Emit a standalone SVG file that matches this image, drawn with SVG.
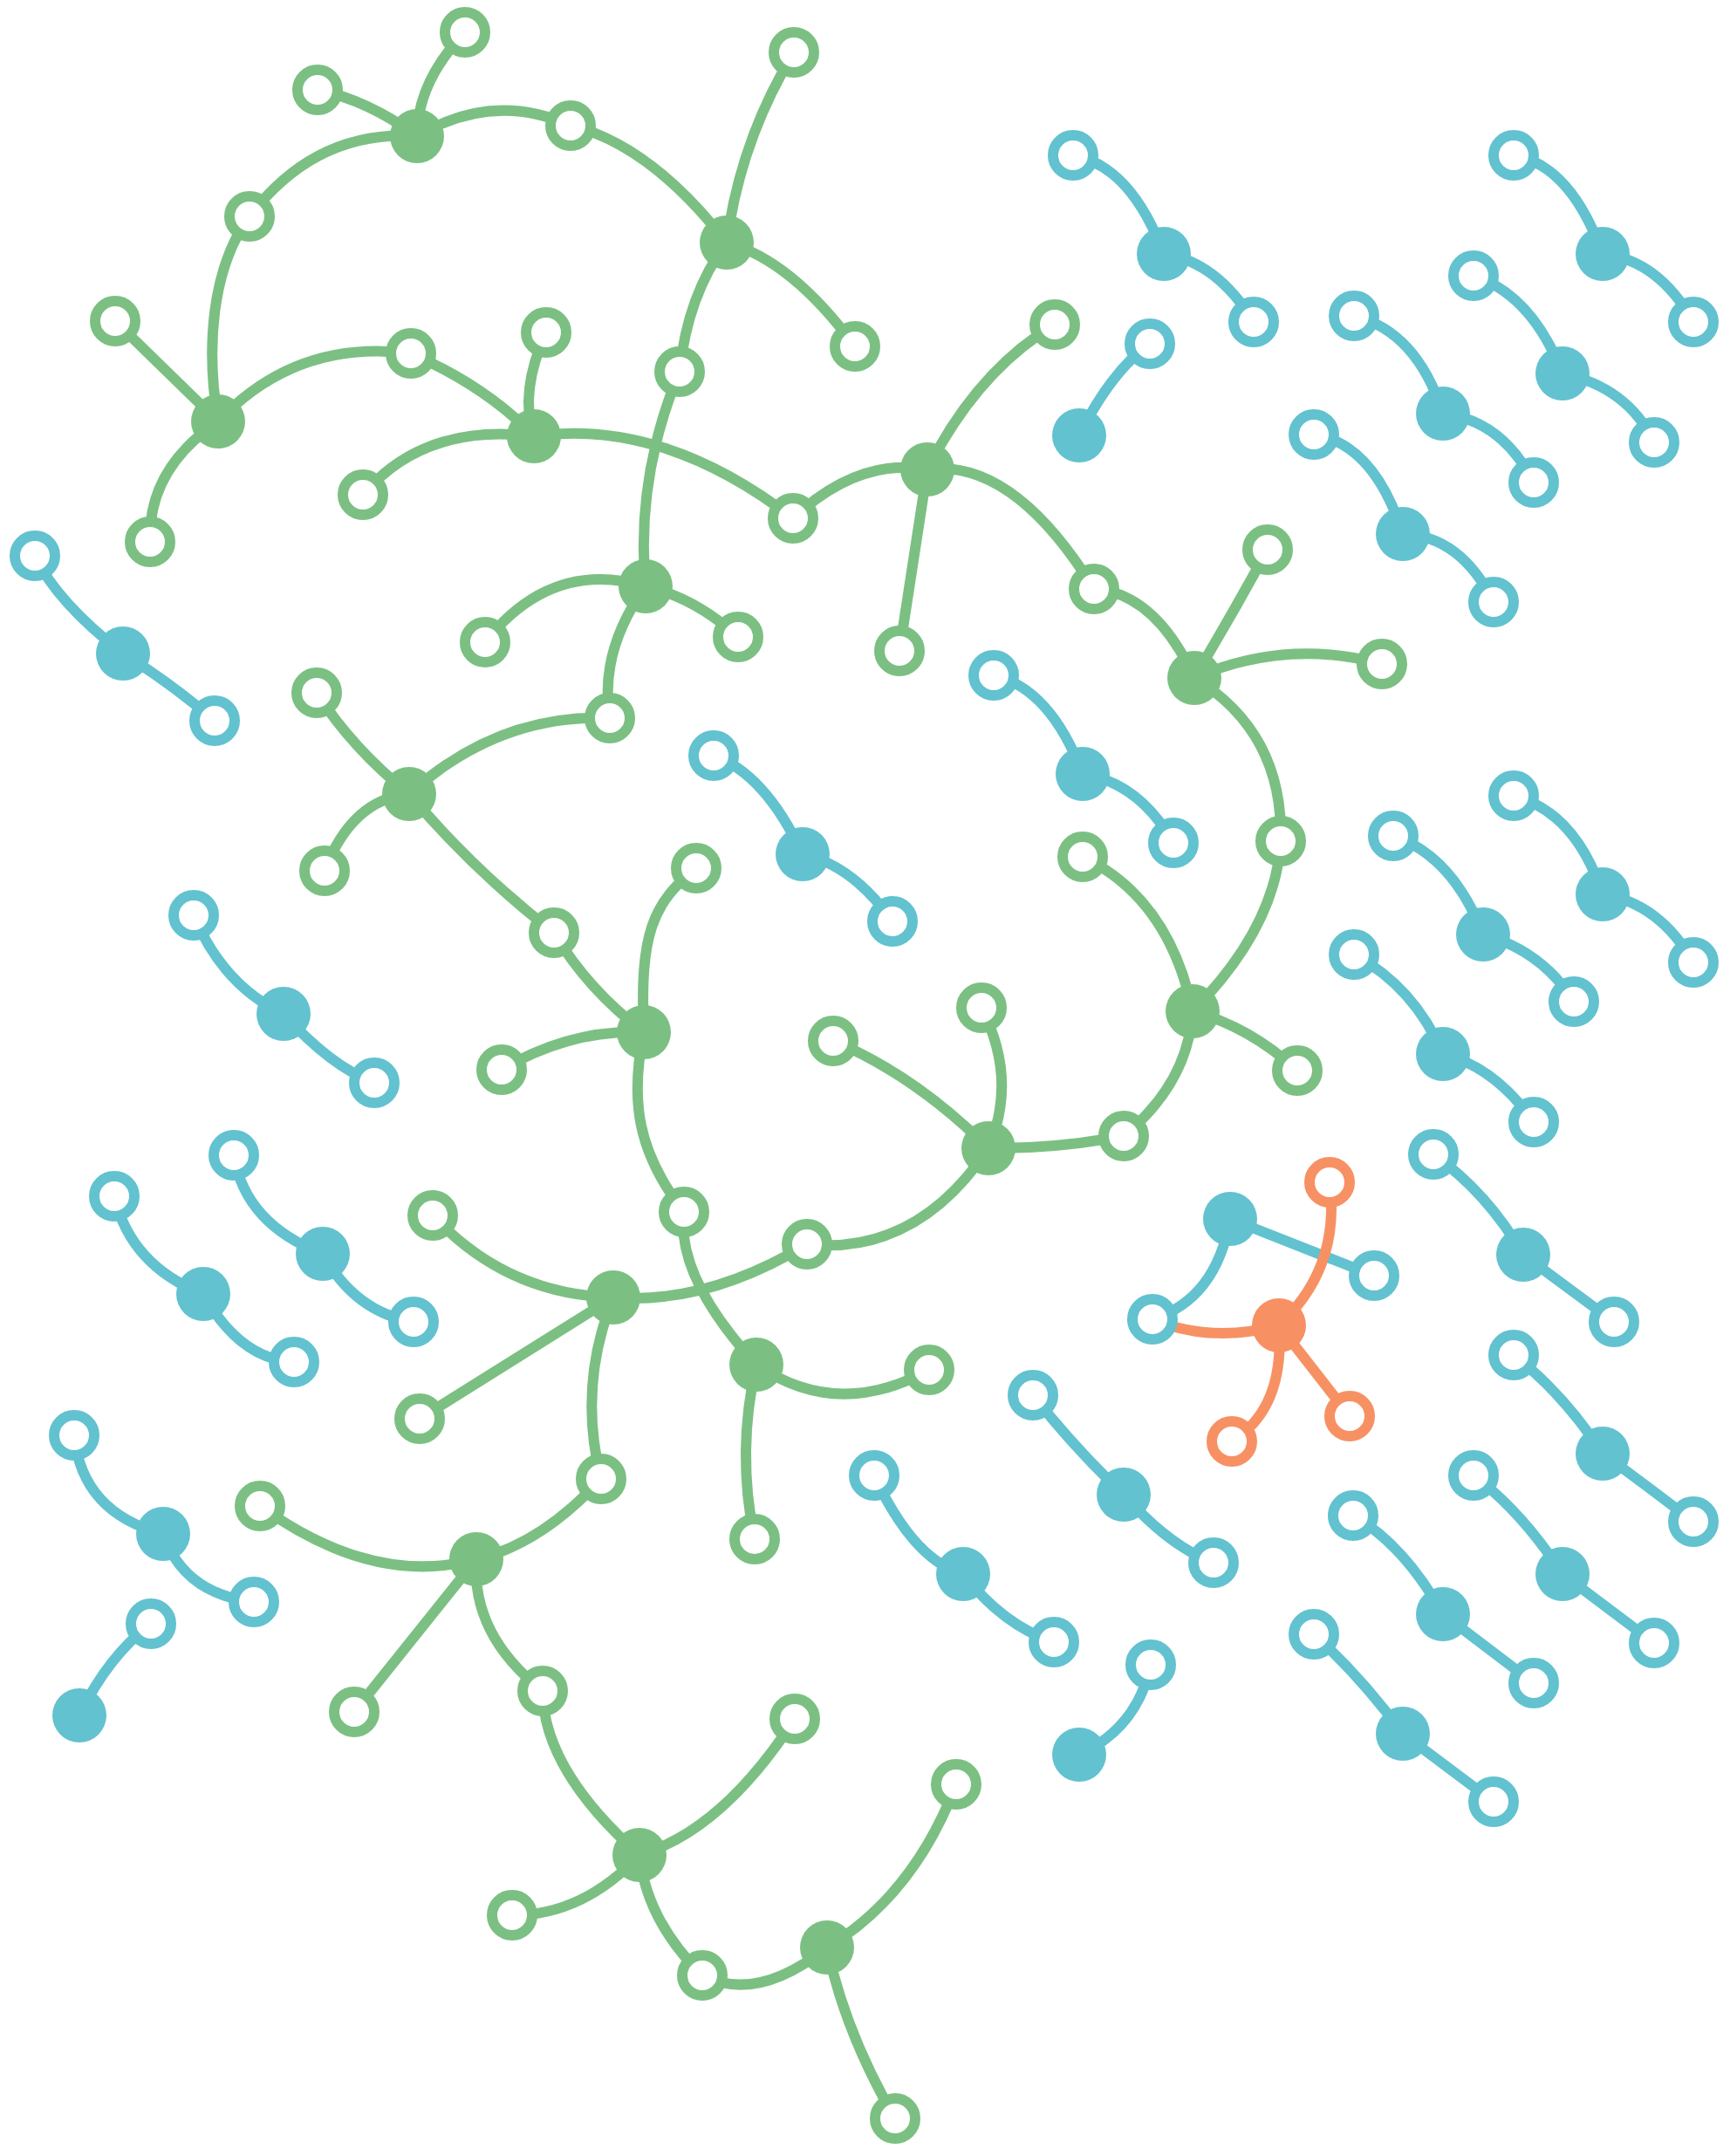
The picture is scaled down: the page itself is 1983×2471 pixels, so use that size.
<svg xmlns="http://www.w3.org/2000/svg" width="1983" height="2471" viewBox="0 0 1983 2471">
<style>
.e{fill:none;stroke-width:12;stroke-linecap:round}
.eg{stroke:#7bc082}.eb{stroke:#62c2cf}.eo{stroke:#f79163}
.fg{fill:#7bc082}.fb{fill:#62c2cf}.fo{fill:#f79163}
.h{fill:#fff;stroke-width:12}
.hg{stroke:#7bc082}.hb{stroke:#62c2cf}.ho{stroke:#f79163}
</style>
<rect width="1983" height="2471" fill="#fff"/>
<g id="connectors">
<g id="green-edges" class="e eg">
<path d="M478 156 Q478.5 93.5 533 37"/>
<path d="M478 156 Q421 114.5 364 103"/>
<path d="M478 156 Q566 104 654 144"/>
<path d="M654 144 Q744.5 165 833 278"/>
<path d="M478 156 Q362 148 286 248"/>
<path d="M286 248 C242 308 236 400 250 483"/>
<path d="M833 278 Q848.5 161 910 60"/>
<path d="M833 278 Q907.5 298.5 980 397"/>
<path d="M833 278 Q788 338 779 426"/>
<path d="M132 368 L250 483"/>
<path d="M250 483 Q339.5 388 471 405"/>
<path d="M471 405 Q558.5 443.5 612 500"/>
<path d="M626 381 Q595 449 612 500"/>
<path d="M416 567 Q486 484.5 612 500"/>
<path d="M250 483 Q169 538 172 621"/>
<path d="M612 500 Q759.5 479 909 594"/>
<path d="M779 426 Q728.5 547 740 672"/>
<path d="M740 672 Q632 640 556 736"/>
<path d="M740 672 Q797 685 846 730"/>
<path d="M740 672 Q686.5 746.5 699 823"/>
<path d="M909 594 Q984 524 1063 538"/>
<path d="M1063 538 Q1120 425 1209 372"/>
<path d="M1063 538 L1031 746"/>
<path d="M1063 538 Q1161.5 525.5 1254 675"/>
<path d="M1254 675 Q1324.5 680 1369 777"/>
<path d="M1369 777 Q1413 703 1453 630"/>
<path d="M1369 777 Q1473.5 731 1584 761"/>
<path d="M1369 777 Q1471.5 839.5 1468 964"/>
<path d="M1468 964 Q1462.5 1062.5 1367 1159"/>
<path d="M1367 1159 Q1340 1029.5 1241 982"/>
<path d="M1367 1159 Q1433 1177 1487 1227"/>
<path d="M1367 1159 Q1362 1241 1288 1302"/>
<path d="M1288 1302 Q1209.5 1317 1133 1316"/>
<path d="M1133 1316 Q1167 1236.5 1125 1155"/>
<path d="M1133 1316 Q1048 1231.5 955 1193"/>
<path d="M1133 1316 Q1051 1439 925 1426"/>
<path d="M363 794 Q404 858 469 910"/>
<path d="M699 823 Q571.5 817.5 469 910"/>
<path d="M469 910 Q403.5 916 372 998"/>
<path d="M469 910 Q544 998.5 635 1069"/>
<path d="M635 1069 Q673.5 1134 738 1183"/>
<path d="M738 1183 C733 1070 748 1035 798 995"/>
<path d="M738 1183 Q653.5 1179.5 575 1226"/>
<path d="M738 1183 C722 1260 730 1320 784 1389"/>
<path d="M784 1389 Q774.5 1463.5 867 1564"/>
<path d="M703 1487 Q580.5 1484 496 1393"/>
<path d="M703 1487 Q810 1495.5 925 1426"/>
<path d="M703 1487 L481 1626"/>
<path d="M703 1487 Q662 1589 689 1695"/>
<path d="M867 1564 Q960 1628 1065 1570"/>
<path d="M867 1564 Q844 1664 865 1764"/>
<path d="M689 1695 Q620 1770 546 1787"/>
<path d="M546 1787 Q428 1819.5 298 1726"/>
<path d="M546 1787 L406 1962"/>
<path d="M546 1787 Q540 1873.5 622 1938"/>
<path d="M622 1938 Q622.5 2028 733 2126"/>
<path d="M733 2126 Q828 2098 911 1970"/>
<path d="M733 2126 Q668 2195.5 587 2195"/>
<path d="M733 2126 Q741 2201 805 2264"/>
<path d="M805 2264 Q867.5 2296 948 2232"/>
<path d="M948 2232 Q1048 2171.5 1096 2045"/>
<path d="M948 2232 Q969 2330 1026 2428"/>
</g>
<g id="blue-edges" class="e eb">
<path d="M40 637 Q65 690 141 749"/><path d="M141 749 Q196 783 246 826"/>
<path d="M1230 178 Q1296 190 1334 291"/><path d="M1334 291 Q1395 300 1437 369"/>
<path d="M1735 178 Q1800 189 1837 291"/><path d="M1837 291 Q1901 298 1941 369"/>
<path d="M1689 316 Q1756 338 1791 428"/><path d="M1791 428 Q1866 444 1896 507"/>
<path d="M1552 362 Q1624 380 1654 474"/><path d="M1654 474 Q1722 482 1758 553"/>
<path d="M1506 498 Q1575 509 1608 612"/><path d="M1608 612 Q1674 614 1712 690"/>
<path d="M1318 394 Q1274 425 1237 499"/>
<path d="M818 866 Q877 887 920 979"/><path d="M920 979 Q978 992 1023 1056"/>
<path d="M222 1049 Q256 1130 325 1162"/><path d="M325 1162 Q379 1222 429 1241"/>
<path d="M1139 774 Q1204 789 1241 887"/><path d="M1241 887 Q1306 897 1345 966"/>
<path d="M1735 912 Q1806 931 1837 1025"/><path d="M1837 1025 Q1902 1035 1941 1103"/>
<path d="M1597 958 Q1665 981 1700 1071"/><path d="M1700 1071 Q1768 1090 1804 1148"/>
<path d="M1552 1094 Q1621 1131 1654 1208"/><path d="M1654 1208 Q1714 1223 1758 1286"/>
<path d="M268 1324 Q281 1403 370 1437"/><path d="M370 1437 Q407 1504 474 1515"/>
<path d="M131 1371 Q150 1451 233 1483"/><path d="M233 1483 Q275 1558 337 1561"/>
<path d="M1643 1323 Q1705 1367 1746 1438"/><path d="M1746 1438 L1850 1515"/>
<path d="M1410 1397 Q1394 1489 1321 1512"/><path d="M1410 1397 L1575 1462"/>
<path d="M85 1645 Q94 1734 187 1758"/><path d="M187 1758 Q211 1827 291 1836"/>
<path d="M173 1861 Q124 1898 91 1966"/>
<path d="M1002 1691 Q1047 1788 1104 1804"/><path d="M1104 1804 Q1150 1863 1208 1882"/>
<path d="M1184 1599 Q1232 1660 1288 1713"/><path d="M1288 1713 Q1340 1772 1391 1791"/>
<path d="M1319 1908 Q1304 1980 1237 2011"/>
<path d="M1735 1553 Q1793 1598 1837 1666"/><path d="M1837 1666 Q1892 1706 1941 1744"/>
<path d="M1689 1691 Q1744 1732 1791 1804"/><path d="M1791 1804 L1896 1883"/>
<path d="M1551 1737 Q1609 1770 1654 1850"/><path d="M1654 1850 L1758 1929"/>
<path d="M1506 1873 Q1561 1923 1608 1987"/><path d="M1608 1987 L1712 2065"/>
</g>
<g id="orange-edges" class="e eo">
<path d="M1466 1519 Q1537 1453 1524 1355"/>
<path d="M1466 1519 Q1388 1540 1321 1512"/>
<path d="M1466 1519 Q1473 1614 1412 1652"/>
<path d="M1466 1519 L1547 1623"/>
</g>
</g>
<g id="nodes">
<g id="g-hub-1"><circle class="fg" cx="478" cy="156" r="31"/></g>
<g id="g-hub-2"><circle class="fg" cx="833" cy="278" r="31"/></g>
<g id="g-hub-3"><circle class="fg" cx="250" cy="483" r="31"/></g>
<g id="g-hub-4"><circle class="fg" cx="612" cy="500" r="31"/></g>
<g id="g-hub-5"><circle class="fg" cx="740" cy="672" r="31"/></g>
<g id="g-hub-6"><circle class="fg" cx="1063" cy="538" r="31"/></g>
<g id="g-hub-7"><circle class="fg" cx="1369" cy="777" r="31"/></g>
<g id="g-hub-8"><circle class="fg" cx="469" cy="910" r="31"/></g>
<g id="g-hub-9"><circle class="fg" cx="738" cy="1183" r="31"/></g>
<g id="g-hub-10"><circle class="fg" cx="703" cy="1487" r="31"/></g>
<g id="g-hub-11"><circle class="fg" cx="867" cy="1564" r="31"/></g>
<g id="g-hub-12"><circle class="fg" cx="1133" cy="1316" r="31"/></g>
<g id="g-hub-13"><circle class="fg" cx="1367" cy="1159" r="31"/></g>
<g id="g-hub-14"><circle class="fg" cx="546" cy="1787" r="31"/></g>
<g id="g-hub-15"><circle class="fg" cx="733" cy="2126" r="31"/></g>
<g id="g-hub-16"><circle class="fg" cx="948" cy="2232" r="31"/></g>
<g id="g-leaf-1"><circle class="h hg" cx="533" cy="37" r="23"/></g>
<g id="g-leaf-2"><circle class="h hg" cx="364" cy="103" r="23"/></g>
<g id="g-leaf-3"><circle class="h hg" cx="654" cy="144" r="23"/></g>
<g id="g-leaf-4"><circle class="h hg" cx="910" cy="60" r="23"/></g>
<g id="g-leaf-5"><circle class="h hg" cx="286" cy="248" r="23"/></g>
<g id="g-leaf-6"><circle class="h hg" cx="980" cy="397" r="23"/></g>
<g id="g-leaf-7"><circle class="h hg" cx="132" cy="368" r="23"/></g>
<g id="g-leaf-8"><circle class="h hg" cx="471" cy="405" r="23"/></g>
<g id="g-leaf-9"><circle class="h hg" cx="626" cy="381" r="23"/></g>
<g id="g-leaf-10"><circle class="h hg" cx="779" cy="426" r="23"/></g>
<g id="g-leaf-11"><circle class="h hg" cx="416" cy="567" r="23"/></g>
<g id="g-leaf-12"><circle class="h hg" cx="172" cy="621" r="23"/></g>
<g id="g-leaf-13"><circle class="h hg" cx="909" cy="594" r="23"/></g>
<g id="g-leaf-14"><circle class="h hg" cx="556" cy="736" r="23"/></g>
<g id="g-leaf-15"><circle class="h hg" cx="846" cy="730" r="23"/></g>
<g id="g-leaf-16"><circle class="h hg" cx="699" cy="823" r="23"/></g>
<g id="g-leaf-17"><circle class="h hg" cx="1209" cy="372" r="23"/></g>
<g id="g-leaf-18"><circle class="h hg" cx="1031" cy="746" r="23"/></g>
<g id="g-leaf-19"><circle class="h hg" cx="1254" cy="675" r="23"/></g>
<g id="g-leaf-20"><circle class="h hg" cx="1453" cy="630" r="23"/></g>
<g id="g-leaf-21"><circle class="h hg" cx="1584" cy="761" r="23"/></g>
<g id="g-leaf-22"><circle class="h hg" cx="1468" cy="964" r="23"/></g>
<g id="g-leaf-23"><circle class="h hg" cx="1241" cy="982" r="23"/></g>
<g id="g-leaf-24"><circle class="h hg" cx="1487" cy="1227" r="23"/></g>
<g id="g-leaf-25"><circle class="h hg" cx="1288" cy="1302" r="23"/></g>
<g id="g-leaf-26"><circle class="h hg" cx="1125" cy="1155" r="23"/></g>
<g id="g-leaf-27"><circle class="h hg" cx="955" cy="1193" r="23"/></g>
<g id="g-leaf-28"><circle class="h hg" cx="925" cy="1426" r="23"/></g>
<g id="g-leaf-29"><circle class="h hg" cx="363" cy="794" r="23"/></g>
<g id="g-leaf-30"><circle class="h hg" cx="372" cy="998" r="23"/></g>
<g id="g-leaf-31"><circle class="h hg" cx="635" cy="1069" r="23"/></g>
<g id="g-leaf-32"><circle class="h hg" cx="798" cy="995" r="23"/></g>
<g id="g-leaf-33"><circle class="h hg" cx="575" cy="1226" r="23"/></g>
<g id="g-leaf-34"><circle class="h hg" cx="784" cy="1389" r="23"/></g>
<g id="g-leaf-35"><circle class="h hg" cx="496" cy="1393" r="23"/></g>
<g id="g-leaf-36"><circle class="h hg" cx="481" cy="1626" r="23"/></g>
<g id="g-leaf-37"><circle class="h hg" cx="689" cy="1695" r="23"/></g>
<g id="g-leaf-38"><circle class="h hg" cx="1065" cy="1570" r="23"/></g>
<g id="g-leaf-39"><circle class="h hg" cx="865" cy="1764" r="23"/></g>
<g id="g-leaf-40"><circle class="h hg" cx="298" cy="1726" r="23"/></g>
<g id="g-leaf-41"><circle class="h hg" cx="406" cy="1962" r="23"/></g>
<g id="g-leaf-42"><circle class="h hg" cx="622" cy="1938" r="23"/></g>
<g id="g-leaf-43"><circle class="h hg" cx="911" cy="1970" r="23"/></g>
<g id="g-leaf-44"><circle class="h hg" cx="587" cy="2195" r="23"/></g>
<g id="g-leaf-45"><circle class="h hg" cx="805" cy="2264" r="23"/></g>
<g id="g-leaf-46"><circle class="h hg" cx="1096" cy="2045" r="23"/></g>
<g id="g-leaf-47"><circle class="h hg" cx="1026" cy="2428" r="23"/></g>
<g id="b-hub-1"><circle class="fb" cx="141" cy="749" r="31"/></g>
<g id="b-hub-2"><circle class="fb" cx="1334" cy="291" r="31"/></g>
<g id="b-hub-3"><circle class="fb" cx="1837" cy="291" r="31"/></g>
<g id="b-hub-4"><circle class="fb" cx="1791" cy="428" r="31"/></g>
<g id="b-hub-5"><circle class="fb" cx="1654" cy="474" r="31"/></g>
<g id="b-hub-6"><circle class="fb" cx="1608" cy="612" r="31"/></g>
<g id="b-hub-7"><circle class="fb" cx="1237" cy="499" r="31"/></g>
<g id="b-hub-8"><circle class="fb" cx="920" cy="979" r="31"/></g>
<g id="b-hub-9"><circle class="fb" cx="325" cy="1162" r="31"/></g>
<g id="b-hub-10"><circle class="fb" cx="1241" cy="887" r="31"/></g>
<g id="b-hub-11"><circle class="fb" cx="1837" cy="1025" r="31"/></g>
<g id="b-hub-12"><circle class="fb" cx="1700" cy="1071" r="31"/></g>
<g id="b-hub-13"><circle class="fb" cx="1654" cy="1208" r="31"/></g>
<g id="b-hub-14"><circle class="fb" cx="370" cy="1437" r="31"/></g>
<g id="b-hub-15"><circle class="fb" cx="233" cy="1483" r="31"/></g>
<g id="b-hub-16"><circle class="fb" cx="1746" cy="1438" r="31"/></g>
<g id="b-hub-17"><circle class="fb" cx="1410" cy="1397" r="31"/></g>
<g id="b-hub-18"><circle class="fb" cx="187" cy="1758" r="31"/></g>
<g id="b-hub-19"><circle class="fb" cx="91" cy="1966" r="31"/></g>
<g id="b-hub-20"><circle class="fb" cx="1104" cy="1804" r="31"/></g>
<g id="b-hub-21"><circle class="fb" cx="1288" cy="1713" r="31"/></g>
<g id="b-hub-22"><circle class="fb" cx="1237" cy="2011" r="31"/></g>
<g id="b-hub-23"><circle class="fb" cx="1837" cy="1666" r="31"/></g>
<g id="b-hub-24"><circle class="fb" cx="1791" cy="1804" r="31"/></g>
<g id="b-hub-25"><circle class="fb" cx="1654" cy="1850" r="31"/></g>
<g id="b-hub-26"><circle class="fb" cx="1608" cy="1987" r="31"/></g>
<g id="b-leaf-1"><circle class="h hb" cx="40" cy="637" r="23"/></g>
<g id="b-leaf-2"><circle class="h hb" cx="246" cy="826" r="23"/></g>
<g id="b-leaf-3"><circle class="h hb" cx="1230" cy="178" r="23"/></g>
<g id="b-leaf-4"><circle class="h hb" cx="1437" cy="369" r="23"/></g>
<g id="b-leaf-5"><circle class="h hb" cx="1735" cy="178" r="23"/></g>
<g id="b-leaf-6"><circle class="h hb" cx="1941" cy="369" r="23"/></g>
<g id="b-leaf-7"><circle class="h hb" cx="1689" cy="316" r="23"/></g>
<g id="b-leaf-8"><circle class="h hb" cx="1896" cy="507" r="23"/></g>
<g id="b-leaf-9"><circle class="h hb" cx="1552" cy="362" r="23"/></g>
<g id="b-leaf-10"><circle class="h hb" cx="1758" cy="553" r="23"/></g>
<g id="b-leaf-11"><circle class="h hb" cx="1506" cy="498" r="23"/></g>
<g id="b-leaf-12"><circle class="h hb" cx="1712" cy="690" r="23"/></g>
<g id="b-leaf-13"><circle class="h hb" cx="1318" cy="394" r="23"/></g>
<g id="b-leaf-14"><circle class="h hb" cx="818" cy="866" r="23"/></g>
<g id="b-leaf-15"><circle class="h hb" cx="1023" cy="1056" r="23"/></g>
<g id="b-leaf-16"><circle class="h hb" cx="222" cy="1049" r="23"/></g>
<g id="b-leaf-17"><circle class="h hb" cx="429" cy="1241" r="23"/></g>
<g id="b-leaf-18"><circle class="h hb" cx="1139" cy="774" r="23"/></g>
<g id="b-leaf-19"><circle class="h hb" cx="1345" cy="966" r="23"/></g>
<g id="b-leaf-20"><circle class="h hb" cx="1735" cy="912" r="23"/></g>
<g id="b-leaf-21"><circle class="h hb" cx="1941" cy="1103" r="23"/></g>
<g id="b-leaf-22"><circle class="h hb" cx="1597" cy="958" r="23"/></g>
<g id="b-leaf-23"><circle class="h hb" cx="1804" cy="1148" r="23"/></g>
<g id="b-leaf-24"><circle class="h hb" cx="1552" cy="1094" r="23"/></g>
<g id="b-leaf-25"><circle class="h hb" cx="1758" cy="1286" r="23"/></g>
<g id="b-leaf-26"><circle class="h hb" cx="268" cy="1324" r="23"/></g>
<g id="b-leaf-27"><circle class="h hb" cx="474" cy="1515" r="23"/></g>
<g id="b-leaf-28"><circle class="h hb" cx="131" cy="1371" r="23"/></g>
<g id="b-leaf-29"><circle class="h hb" cx="337" cy="1561" r="23"/></g>
<g id="b-leaf-30"><circle class="h hb" cx="1643" cy="1323" r="23"/></g>
<g id="b-leaf-31"><circle class="h hb" cx="1850" cy="1515" r="23"/></g>
<g id="b-leaf-32"><circle class="h hb" cx="1321" cy="1512" r="23"/></g>
<g id="b-leaf-33"><circle class="h hb" cx="1575" cy="1462" r="23"/></g>
<g id="b-leaf-34"><circle class="h hb" cx="85" cy="1645" r="23"/></g>
<g id="b-leaf-35"><circle class="h hb" cx="291" cy="1836" r="23"/></g>
<g id="b-leaf-36"><circle class="h hb" cx="173" cy="1861" r="23"/></g>
<g id="b-leaf-37"><circle class="h hb" cx="1002" cy="1691" r="23"/></g>
<g id="b-leaf-38"><circle class="h hb" cx="1208" cy="1882" r="23"/></g>
<g id="b-leaf-39"><circle class="h hb" cx="1184" cy="1599" r="23"/></g>
<g id="b-leaf-40"><circle class="h hb" cx="1391" cy="1791" r="23"/></g>
<g id="b-leaf-41"><circle class="h hb" cx="1319" cy="1908" r="23"/></g>
<g id="b-leaf-42"><circle class="h hb" cx="1735" cy="1553" r="23"/></g>
<g id="b-leaf-43"><circle class="h hb" cx="1941" cy="1744" r="23"/></g>
<g id="b-leaf-44"><circle class="h hb" cx="1689" cy="1691" r="23"/></g>
<g id="b-leaf-45"><circle class="h hb" cx="1896" cy="1883" r="23"/></g>
<g id="b-leaf-46"><circle class="h hb" cx="1551" cy="1737" r="23"/></g>
<g id="b-leaf-47"><circle class="h hb" cx="1758" cy="1929" r="23"/></g>
<g id="b-leaf-48"><circle class="h hb" cx="1506" cy="1873" r="23"/></g>
<g id="b-leaf-49"><circle class="h hb" cx="1712" cy="2065" r="23"/></g>
<g id="o-hub-1"><circle class="fo" cx="1466" cy="1519" r="31"/></g>
<g id="o-leaf-1"><circle class="h ho" cx="1524" cy="1355" r="23"/></g>
<g id="o-leaf-2"><circle class="h ho" cx="1547" cy="1623" r="23"/></g>
<g id="o-leaf-3"><circle class="h ho" cx="1412" cy="1652" r="23"/></g>
</g>
</svg>
